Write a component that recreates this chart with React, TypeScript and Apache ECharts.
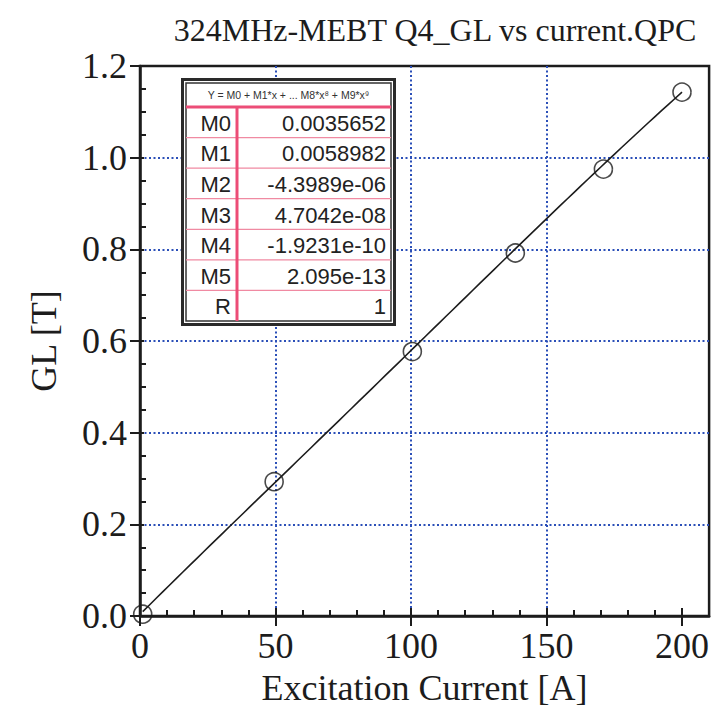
import React, { useEffect, useRef } from "react";
import * as echarts from "echarts";

// Measured excitation currents and integrated gradients
const currentA = [1, 49.5, 100.5, 138.5, 171, 200];
const fieldGL = [0.004, 0.293, 0.577, 0.792, 0.975, 1.143];

// Polynomial fit table (as printed in the inset)
const fitNames = ["M0", "M1", "M2", "M3", "M4", "M5", "R"];
const fitText = ["0.0035652", "0.0058982", "-4.3989e-06", "4.7042e-08", "-1.9231e-10", "2.095e-13", "1"];

const xMajorTicks = [0, 50, 100, 150, 200];
const yMajorTicks = [0, 0.2, 0.4, 0.6, 0.8, 1.0, 1.2];

const SERIF = "Liberation Serif";
const SANS = "Liberation Sans";
const BLUE = "#2b4fb8";
const PINK = "#ec4d77";
const INK = "#1c1c1c";

function fitCurve(): number[][] {
  const coefs = fitText.slice(0, 6).map(Number);
  const out: number[][] = [];
  const x0 = currentA[0];
  const x1 = currentA[currentA.length - 1];
  const steps = 80;
  for (let i = 0; i <= steps; i++) {
    const x = x0 + ((x1 - x0) * i) / steps;
    let y = 0;
    for (let k = coefs.length - 1; k >= 0; k--) y = y * x + coefs[k];
    out.push([x, y]);
  }
  return out;
}

function tableGraphic(): any[] {
  const left = 186, top = 83, right = 391, bottom = 321;
  const headBottom = 107;
  const divX = 237;
  const rowH = (bottom - headBottom) / fitNames.length;
  const els: any[] = [
    {
      type: "rect",
      shape: { x: 182.5, y: 79.5, width: 212, height: 245 },
      style: { fill: "#ffffff", stroke: "#2a2a2a", lineWidth: 3 },
    },
    {
      type: "rect",
      shape: { x: left, y: top, width: right - left, height: bottom - top },
      style: { fill: "none", stroke: "#333", lineWidth: 1.5 },
    },
    {
      type: "text",
      x: (left + right) / 2,
      y: 95,
      style: {
        text: "Y = M0 + M1*x + ... M8*x⁸ + M9*x⁹",
        fontFamily: SANS,
        fontSize: 10.5,
        fill: "#333",
        align: "center",
        verticalAlign: "middle",
      },
    },
  ];
  for (let k = 1; k < fitNames.length; k++) {
    const y = headBottom + rowH * k;
    els.push({
      type: "line",
      shape: { x1: left, y1: y, x2: right, y2: y },
      style: { stroke: "#f08aa2", lineWidth: 1.2 },
    });
  }
  els.push({
    type: "line",
    shape: { x1: left, y1: headBottom, x2: right, y2: headBottom },
    style: { stroke: PINK, lineWidth: 3 },
  });
  els.push({
    type: "line",
    shape: { x1: divX, y1: headBottom, x2: divX, y2: bottom },
    style: { stroke: PINK, lineWidth: 3 },
  });
  fitNames.forEach((name, i) => {
    const cy = headBottom + rowH * (i + 0.5) + 1;
    els.push({
      type: "text",
      x: divX - 6,
      y: cy,
      style: { text: name, fontFamily: SANS, fontSize: 22, fill: "#222", align: "right", verticalAlign: "middle" },
    });
    els.push({
      type: "text",
      x: right - 5,
      y: cy,
      style: { text: fitText[i], fontFamily: SANS, fontSize: 22, fill: "#222", align: "right", verticalAlign: "middle" },
    });
  });
  // keep the inset above grid lines and series
  els.forEach((e, i) => {
    e.z = 100;
    e.z2 = i;
  });
  return els;
}

export default function App() {
  const ref = useRef<HTMLDivElement>(null);

  useEffect(() => {
    if (!ref.current) return;
    const chart = echarts.init(ref.current, null, { renderer: "svg" });

    const xMinor: number[] = [];
    for (let v = 10; v < 200; v += 10) if (v % 50 !== 0) xMinor.push(v);

    const xBase = { type: "value", min: 0, max: 210, interval: 50, gridIndex: 0, position: "bottom" };
    const yBase = { type: "value", min: 0, max: 1.2, interval: 0.2, gridIndex: 0, position: "left" };

    chart.setOption({
      animation: false,
      backgroundColor: "#ffffff",
      title: {
        text: "324MHz-MEBT Q4_GL vs current.QPC",
        left: 430,
        top: 9,
        textAlign: "center",
        textStyle: { fontFamily: SERIF, fontSize: 32, fontWeight: "normal", color: INK },
      },
      grid: {
        left: 140,
        top: 66,
        width: 573,
        height: 550,
        show: true,
        borderColor: INK,
        borderWidth: 2.5,
        backgroundColor: "transparent",
      },
      xAxis: [
        {
          ...xBase,
          name: "Excitation Current [A]",
          nameLocation: "middle",
          nameGap: 54,
          nameTextStyle: { fontFamily: SERIF, fontSize: 36, color: INK },
          axisLine: { show: true, lineStyle: { color: INK, width: 2.5 } },
          axisTick: { show: true, inside: true, length: 8, customValues: xMajorTicks, lineStyle: { color: INK, width: 2 } },
          axisLabel: {
            customValues: xMajorTicks,
            margin: 12,
            fontFamily: SERIF,
            fontSize: 36,
            color: INK,
          },
          splitLine: {
            show: true,
            showMinLine: false,
            showMaxLine: false,
            lineStyle: { color: BLUE, width: 2, type: [2, 2.5] },
          },
        },
        {
          ...xBase,
          axisLine: { show: false },
          axisTick: { show: true, inside: false, length: 10, customValues: xMajorTicks, lineStyle: { color: INK, width: 2 } },
          axisLabel: { show: false },
          splitLine: { show: false },
        },
        {
          ...xBase,
          axisLine: { show: false },
          axisTick: { show: true, inside: true, length: 6, customValues: xMinor, lineStyle: { color: INK, width: 2 } },
          axisLabel: { show: false },
          splitLine: { show: false },
        },
      ],
      yAxis: [
        {
          ...yBase,
          name: "GL [T]",
          nameLocation: "middle",
          nameGap: 78,
          nameRotate: 90,
          nameTextStyle: { fontFamily: SERIF, fontSize: 36, color: INK },
          axisLine: { show: true, lineStyle: { color: INK, width: 2.5 } },
          axisTick: { show: true, inside: true, length: 4, lineStyle: { color: INK, width: 2 } },
          minorTick: { show: true, splitNumber: 4, length: 6, lineStyle: { color: INK, width: 2 } },
          axisLabel: {
            margin: 13,
            fontFamily: SERIF,
            fontSize: 36,
            color: INK,
            formatter: (v: number) => v.toFixed(1),
          },
          splitLine: {
            show: true,
            showMinLine: false,
            showMaxLine: false,
            lineStyle: { color: BLUE, width: 2, type: [2, 2.5] },
          },
        },
        {
          ...yBase,
          axisLine: { show: false },
          axisTick: { show: true, inside: false, length: 10, customValues: yMajorTicks, lineStyle: { color: INK, width: 2 } },
          axisLabel: { show: false },
          splitLine: { show: false },
        },
      ],
      series: [
        {
          name: "fit",
          type: "line",
          xAxisIndex: 0,
          yAxisIndex: 0,
          data: fitCurve(),
          showSymbol: false,
          smooth: false,
          lineStyle: { color: INK, width: 1.6 },
          z: 3,
        },
        {
          name: "GL",
          type: "scatter",
          xAxisIndex: 0,
          yAxisIndex: 0,
          data: currentA.map((x, i) => [x, fieldGL[i]]),
          symbol: "circle",
          symbolSize: 18,
          itemStyle: { color: "rgba(0,0,0,0)", borderColor: INK, borderWidth: 1.6 },
          z: 4,
        },
      ],
      graphic: tableGraphic(),
    });

    return () => chart.dispose();
  }, []);

  return (
    <div
      ref={ref}
      style={{ position: "fixed", left: 0, top: 0, width: 712, height: 712, background: "#fff" }}
    />
  );
}
